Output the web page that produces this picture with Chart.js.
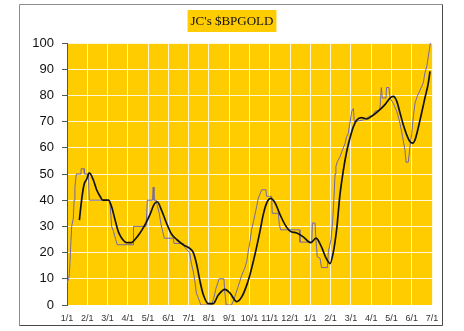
<!DOCTYPE html>
<html>
<head>
<meta charset="utf-8">
<script src="https://cdn.jsdelivr.net/npm/chart.js@4/dist/chart.umd.min.js"></script>
<style>
  html, body { margin: 0; padding: 0; background: #fff; }
  #wrap { width: 464px; height: 331px; }
</style>
</head>
<body>
<div id="wrap"><canvas id="bpChart" width="464" height="331"></canvas></div>
<script>
// month labels, one per gridline (Jan .. Jul of the following year)
const maandLabels = ["1/1", "2/1", "3/1", "4/1", "5/1", "6/1", "7/1", "8/1", "9/1", "10/1", "11/1", "12/1", "1/1", "2/1", "3/1", "4/1", "5/1", "6/1", "7/1"];

// bullish percent, raw readings (x in months since the first 1/1)
const bpMaand = [0, 0.08, 0.12, 0.18, 0.23, 0.31, 0.35, 0.39, 0.46, 0.69, 0.70, 0.84, 0.86, 1.05, 1.1,
  2.1, 2.13, 2.2, 2.3, 2.4, 2.48, 3.26, 3.28, 3.9, 3.96, 4.22, 4.25, 4.29, 4.4, 4.45, 4.55, 4.63, 4.72, 4.8,
  5.24, 5.28, 5.73, 5.8, 5.93, 6.05, 6.13, 6.22, 6.3, 6.38, 6.46, 6.6, 7.14, 7.25, 7.35, 7.5, 7.74, 7.78, 7.85,
  8.12, 8.27, 8.44, 8.6, 8.76, 8.86, 8.94, 9.02, 9.1, 9.19, 9.27, 9.35, 9.43, 9.52, 9.6, 9.81, 9.84, 10.09, 10.12,
  10.42, 10.47, 10.54, 11.45, 11.49, 12.07, 12.1, 12.23, 12.28, 12.34, 12.48, 12.55, 12.84, 12.89, 13.02, 13.1,
  13.16, 13.22, 13.26, 13.33, 13.46, 13.55, 13.62, 13.71, 13.79, 13.87, 13.95, 14.04, 14.12, 14.17, 14.61, 14.91,
  15.1, 15.19, 15.43, 15.5, 15.55, 15.73, 15.76, 15.88, 15.93, 16.09, 16.26, 16.42, 16.55, 16.67, 16.72, 16.83,
  16.91, 17.0, 17.08, 17.16, 17.27, 17.41, 17.57, 17.65, 17.74, 17.82, 17.92];
const bpWaarde = [8.3, 10, 12, 22, 30, 33, 40, 45, 50, 50, 52, 52, 50, 50, 40,
  40, 38, 30, 28, 25, 23, 23, 30, 30, 40, 40, 45, 40, 40, 38, 35, 31, 28, 25.5,
  25.5, 23.5, 23.5, 22, 21, 20, 16, 13, 9.5, 4.5, 3, 0, 0, 3, 6.4, 10, 10, 5, 0,
  0, 3, 7, 11, 14, 16.5, 20.5, 24, 28.7, 31.6, 34.5, 37.5, 40.6, 42.5, 44, 44, 41.5, 41.5, 35,
  35, 30.7, 28.7, 28.7, 24, 24, 31.3, 31.3, 24.7, 18.4, 17.8, 14.3, 14.3, 20.4, 25, 32,
  40, 50, 52.8, 54.7, 56.5, 58.5, 59.8, 61.7, 64.2, 65.5, 69.4, 73.9, 75, 70, 70.6, 72,
  72.6, 73.9, 74.5, 83, 79, 79, 83, 83, 79, 77, 74, 69.4, 64.2, 59, 54.5, 54.5,
  60.3, 65.5, 72, 77, 79.6, 82, 84.8, 88.6, 91, 95, 100];

// smoothed average of the same series
const gemMaand = [0.61, 0.72, 0.84, 0.97, 1.1, 1.3, 1.46, 1.63, 1.76, 2.04, 2.2, 2.37, 2.53, 2.7, 2.94,
  3.19, 3.35, 3.6, 3.85, 4.09, 4.3, 4.45, 4.67, 4.92, 5.16, 5.41, 5.73, 6.07, 6.23, 6.4, 6.56, 6.72, 6.97,
  7.21, 7.46, 7.79, 8.04, 8.37, 8.61, 8.86, 9.02, 9.27, 9.52, 9.68, 9.85, 10.04, 10.26, 10.5, 10.75, 11.0,
  11.33, 11.65, 12.02, 12.28, 12.56, 12.77, 12.97, 13.13, 13.3, 13.46, 13.62, 13.79, 13.95, 14.12, 14.28,
  14.53, 14.78, 15.02, 15.35, 15.68, 15.93, 16.09, 16.26, 16.42, 16.58, 16.75, 16.91, 17.05, 17.16, 17.32,
  17.49, 17.65, 17.82, 17.9];
const gemWaarde = [32.4, 40, 46, 48, 50.4, 47.7, 44, 41.5, 40, 40, 37.5, 32.5, 28, 25.5, 23.8,
  23.8, 25, 27.5, 30.7, 34.5, 38.5, 39.4, 36, 31, 27, 25, 23, 21.5, 20, 15.3, 9, 4, 0.5,
  0.5, 3.8, 6, 4.5, 1.3, 3, 7.5, 11.5, 19.3, 28.3, 34.6, 39, 40.7, 39, 34.6, 30.7, 28.2,
  27.5, 26, 23.8, 25.5, 22, 18, 15.8, 20, 29, 42, 51, 58.5, 63.6, 68, 70.5,
  71.5, 71, 72, 74, 76.5, 79, 79.6, 77.8, 73.4, 68.9, 65, 62.4, 61.8, 63, 67.6,
  73.4, 79, 84.8, 89.2];

const titelTekst = "JC's $BPGOLD";
const geel = "#ffcc00";

// frame round the whole chart, yellow plot area and the box behind the title
const achtergrond = {
  id: "achtergrond",
  beforeDraw(chart) {
    const c = chart.ctx;
    const a = chart.chartArea;
    const t = chart.titleBlock;
    c.save();
    c.fillStyle = "#fff";
    c.fillRect(0, 0, chart.width, chart.height);

    c.lineWidth = 1;
    c.strokeStyle = "#8c8c8c";
    c.beginPath();
    c.moveTo(19.5, 325.5);
    c.lineTo(19.5, 4.5);
    c.lineTo(442.5, 4.5);
    c.stroke();
    c.strokeStyle = "#4a4a4a";
    c.beginPath();
    c.moveTo(442.5, 4.5);
    c.lineTo(442.5, 325.5);
    c.lineTo(19.5, 325.5);
    c.stroke();

    c.font = "13px 'Liberation Serif'";
    const w = c.measureText(titelTekst).width;
    const mid = (t.left + t.right) / 2;
    c.fillStyle = geel;
    c.fillRect(mid - w / 2 - 3, 10, w + 6, 22);

    c.fillRect(a.left, a.top, a.right - a.left + 1, a.bottom - a.top);
    c.restore();
  }
};

const config = {
  type: "line",
  data: {
    datasets: [{
      label: "$BPGOLD",
      data: bpMaand.map((m, i) => ({ x: m, y: bpWaarde[i] })),
      borderColor: "#76689f",
      borderWidth: 1,
      pointRadius: 0,
      tension: 0,
      order: 1
    }, {
      label: "gemiddelde",
      data: gemMaand.map((m, i) => ({ x: m, y: gemWaarde[i] })),
      borderColor: "#111",
      borderWidth: 1.7,
      pointRadius: 0,
      cubicInterpolationMode: "monotone",
      order: 0
    }]
  },
  options: {
    responsive: false,
    animation: false,
    layout: { padding: 0 },
    plugins: {
      legend: { display: false },
      tooltip: { enabled: false },
      title: {
        display: true,
        text: titelTekst,
        color: "#111",
        font: { family: "'Liberation Serif'", size: 13, weight: "normal" },
        padding: { top: 14, bottom: 13.4 }
      }
    },
    scales: {
      x: {
        type: "linear",
        min: 0,
        max: 18,
        afterFit: (s) => { s.height = 26; },
        grid: { color: "rgba(255,255,255,0.85)", drawTicks: false },
        border: { display: false },
        ticks: {
          stepSize: 1,
          padding: 8,
          maxRotation: 0,
          autoSkip: false,
          color: "#333",
          font: { family: "'Liberation Sans'", size: 9 },
          callback: (v) => maandLabels[v]
        }
      },
      y: {
        min: 0,
        max: 100,
        afterFit: (s) => { s.width = 67; },
        grid: { color: "rgba(255,255,255,0.85)", tickColor: "#555", tickLength: 5 },
        border: { display: true, color: "#555" },
        ticks: {
          stepSize: 10,
          padding: 8,
          color: "#111",
          font: { family: "'Liberation Sans'", size: 13 }
        }
      },
      // empty strip on the right so the title stays centred on the page
      rechts: {
        position: "right",
        afterFit: (s) => { s.width = 32; },
        grid: { display: false },
        border: { display: false },
        ticks: { display: false }
      }
    }
  },
  plugins: [achtergrond]
};

const myChart = new Chart(document.getElementById("bpChart"), config);
</script>
</body>
</html>
